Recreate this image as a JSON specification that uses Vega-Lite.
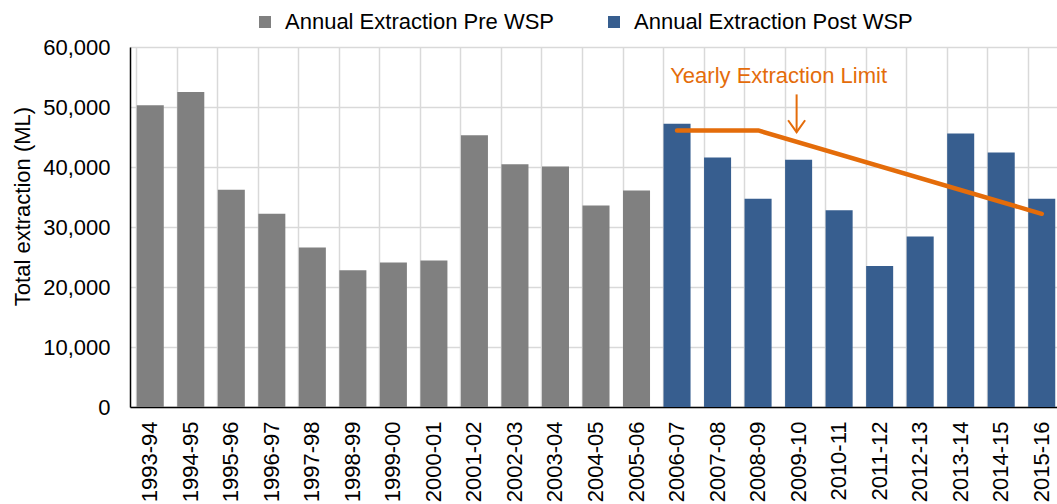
{
  "$schema": "https://vega.github.io/schema/vega-lite/v6.json",
  "width": 932,
  "height": 360,
  "autosize": {"type": "none"},
  "padding": {"left": 130, "top": 47, "right": 0, "bottom": 97},
  "background": "white",
  "config": {
    "font": "Liberation Sans",
    "view": {"stroke": null},
    "axis": {"labelColor": "#000000", "titleColor": "#000000"}
  },
  "datasets": {
    "extraction": [
      {"period": "1993-94", "value": 50300, "series": "Annual Extraction Pre WSP"},
      {"period": "1994-95", "value": 52500, "series": "Annual Extraction Pre WSP"},
      {"period": "1995-96", "value": 36200, "series": "Annual Extraction Pre WSP"},
      {"period": "1996-97", "value": 32200, "series": "Annual Extraction Pre WSP"},
      {"period": "1997-98", "value": 26600, "series": "Annual Extraction Pre WSP"},
      {"period": "1998-99", "value": 22800, "series": "Annual Extraction Pre WSP"},
      {"period": "1999-00", "value": 24100, "series": "Annual Extraction Pre WSP"},
      {"period": "2000-01", "value": 24400, "series": "Annual Extraction Pre WSP"},
      {"period": "2001-02", "value": 45300, "series": "Annual Extraction Pre WSP"},
      {"period": "2002-03", "value": 40450, "series": "Annual Extraction Pre WSP"},
      {"period": "2003-04", "value": 40100, "series": "Annual Extraction Pre WSP"},
      {"period": "2004-05", "value": 33600, "series": "Annual Extraction Pre WSP"},
      {"period": "2005-06", "value": 36100, "series": "Annual Extraction Pre WSP"},
      {"period": "2006-07", "value": 47200, "series": "Annual Extraction Post WSP"},
      {"period": "2007-08", "value": 41600, "series": "Annual Extraction Post WSP"},
      {"period": "2008-09", "value": 34700, "series": "Annual Extraction Post WSP"},
      {"period": "2009-10", "value": 41200, "series": "Annual Extraction Post WSP"},
      {"period": "2010-11", "value": 32800, "series": "Annual Extraction Post WSP"},
      {"period": "2011-12", "value": 23500, "series": "Annual Extraction Post WSP"},
      {"period": "2012-13", "value": 28400, "series": "Annual Extraction Post WSP"},
      {"period": "2013-14", "value": 45600, "series": "Annual Extraction Post WSP"},
      {"period": "2014-15", "value": 42400, "series": "Annual Extraction Post WSP"},
      {"period": "2015-16", "value": 34700, "series": "Annual Extraction Post WSP"}
    ],
    "limit": [
      {"period": "2006-07", "limit": 46100},
      {"period": "2008-09", "limit": 46100},
      {"period": "2015-16", "limit": 32200}
    ],
    "note": [
      {"period": "2009-10", "label": "Yearly Extraction Limit", "top": 52100, "tip": 45800, "textY": 54000}
    ]
  },
  "encoding": {
    "x": {
      "field": "period",
      "type": "ordinal",
      "sort": null,
      "scale": {"paddingInner": 0.333, "paddingOuter": 0.1665},
      "axis": {
        "title": null,
        "labelAngle": -90,
        "labelFontSize": 22,
        "labelPadding": 14,
        "ticks": false,
        "grid": true,
        "bandPosition": 0,
        "gridColor": "#D9D9D9",
        "gridWidth": 1.5,
        "domainColor": "#000000",
        "domainWidth": 1.5
      }
    }
  },
  "layer": [
    {
      "data": {"name": "extraction"},
      "mark": {"type": "bar"},
      "encoding": {
        "y": {
          "field": "value",
          "type": "quantitative",
          "scale": {"domain": [0, 60000]},
          "axis": {
            "title": "Total extraction (ML)",
            "titleFontSize": 22,
            "titleFontWeight": "normal",
            "titleAngle": -90,
            "titleX": -108,
            "titleY": 159,
            "titleAlign": "center",
            "titleBaseline": "middle",
            "values": [0, 10000, 20000, 30000, 40000, 50000, 60000],
            "format": ",.0f",
            "labelFontSize": 22,
            "labelPadding": 20,
            "ticks": false,
            "gridColor": "#D9D9D9",
            "gridWidth": 1.5,
            "domainColor": "#000000",
            "domainWidth": 1.5
          }
        },
        "color": {
          "field": "series",
          "type": "nominal",
          "scale": {
            "domain": ["Annual Extraction Pre WSP", "Annual Extraction Post WSP"],
            "range": ["#808080", "#375E8F"]
          },
          "legend": {
            "title": null,
            "orient": "none",
            "direction": "horizontal",
            "legendX": 124,
            "legendY": -36,
            "symbolType": "square",
            "symbolSize": 144,
            "symbolStrokeWidth": 0,
            "labelFontSize": 22,
            "labelOffset": 9,
            "labelLimit": 400,
            "columnPadding": 48,
            "labelColor": "#000000"
          }
        }
      }
    },
    {
      "data": {"name": "limit"},
      "mark": {"type": "line", "color": "#E46C0A", "strokeWidth": 4.5, "strokeCap": "round", "strokeJoin": "round"},
      "encoding": {
        "y": {"field": "limit", "type": "quantitative"}
      }
    },
    {
      "data": {"name": "note"},
      "mark": {"type": "text", "color": "#E46C0A", "fontSize": 22, "dx": -20, "baseline": "alphabetic", "align": "center"},
      "encoding": {
        "y": {"field": "textY", "type": "quantitative"},
        "text": {"field": "label"}
      }
    },
    {
      "data": {"name": "note"},
      "mark": {"type": "rule", "color": "#E46C0A", "strokeWidth": 2, "xOffset": -2},
      "encoding": {
        "y": {"field": "top", "type": "quantitative"},
        "y2": {"field": "tip"}
      }
    },
    {
      "data": {"name": "note"},
      "mark": {"type": "point", "shape": "M-1,-1.41L0,0L1,-1.41", "size": 289, "filled": false, "stroke": "#E46C0A", "strokeWidth": 2, "opacity": 1, "xOffset": -2},
      "encoding": {
        "y": {"field": "tip", "type": "quantitative"}
      }
    }
  ]
}
